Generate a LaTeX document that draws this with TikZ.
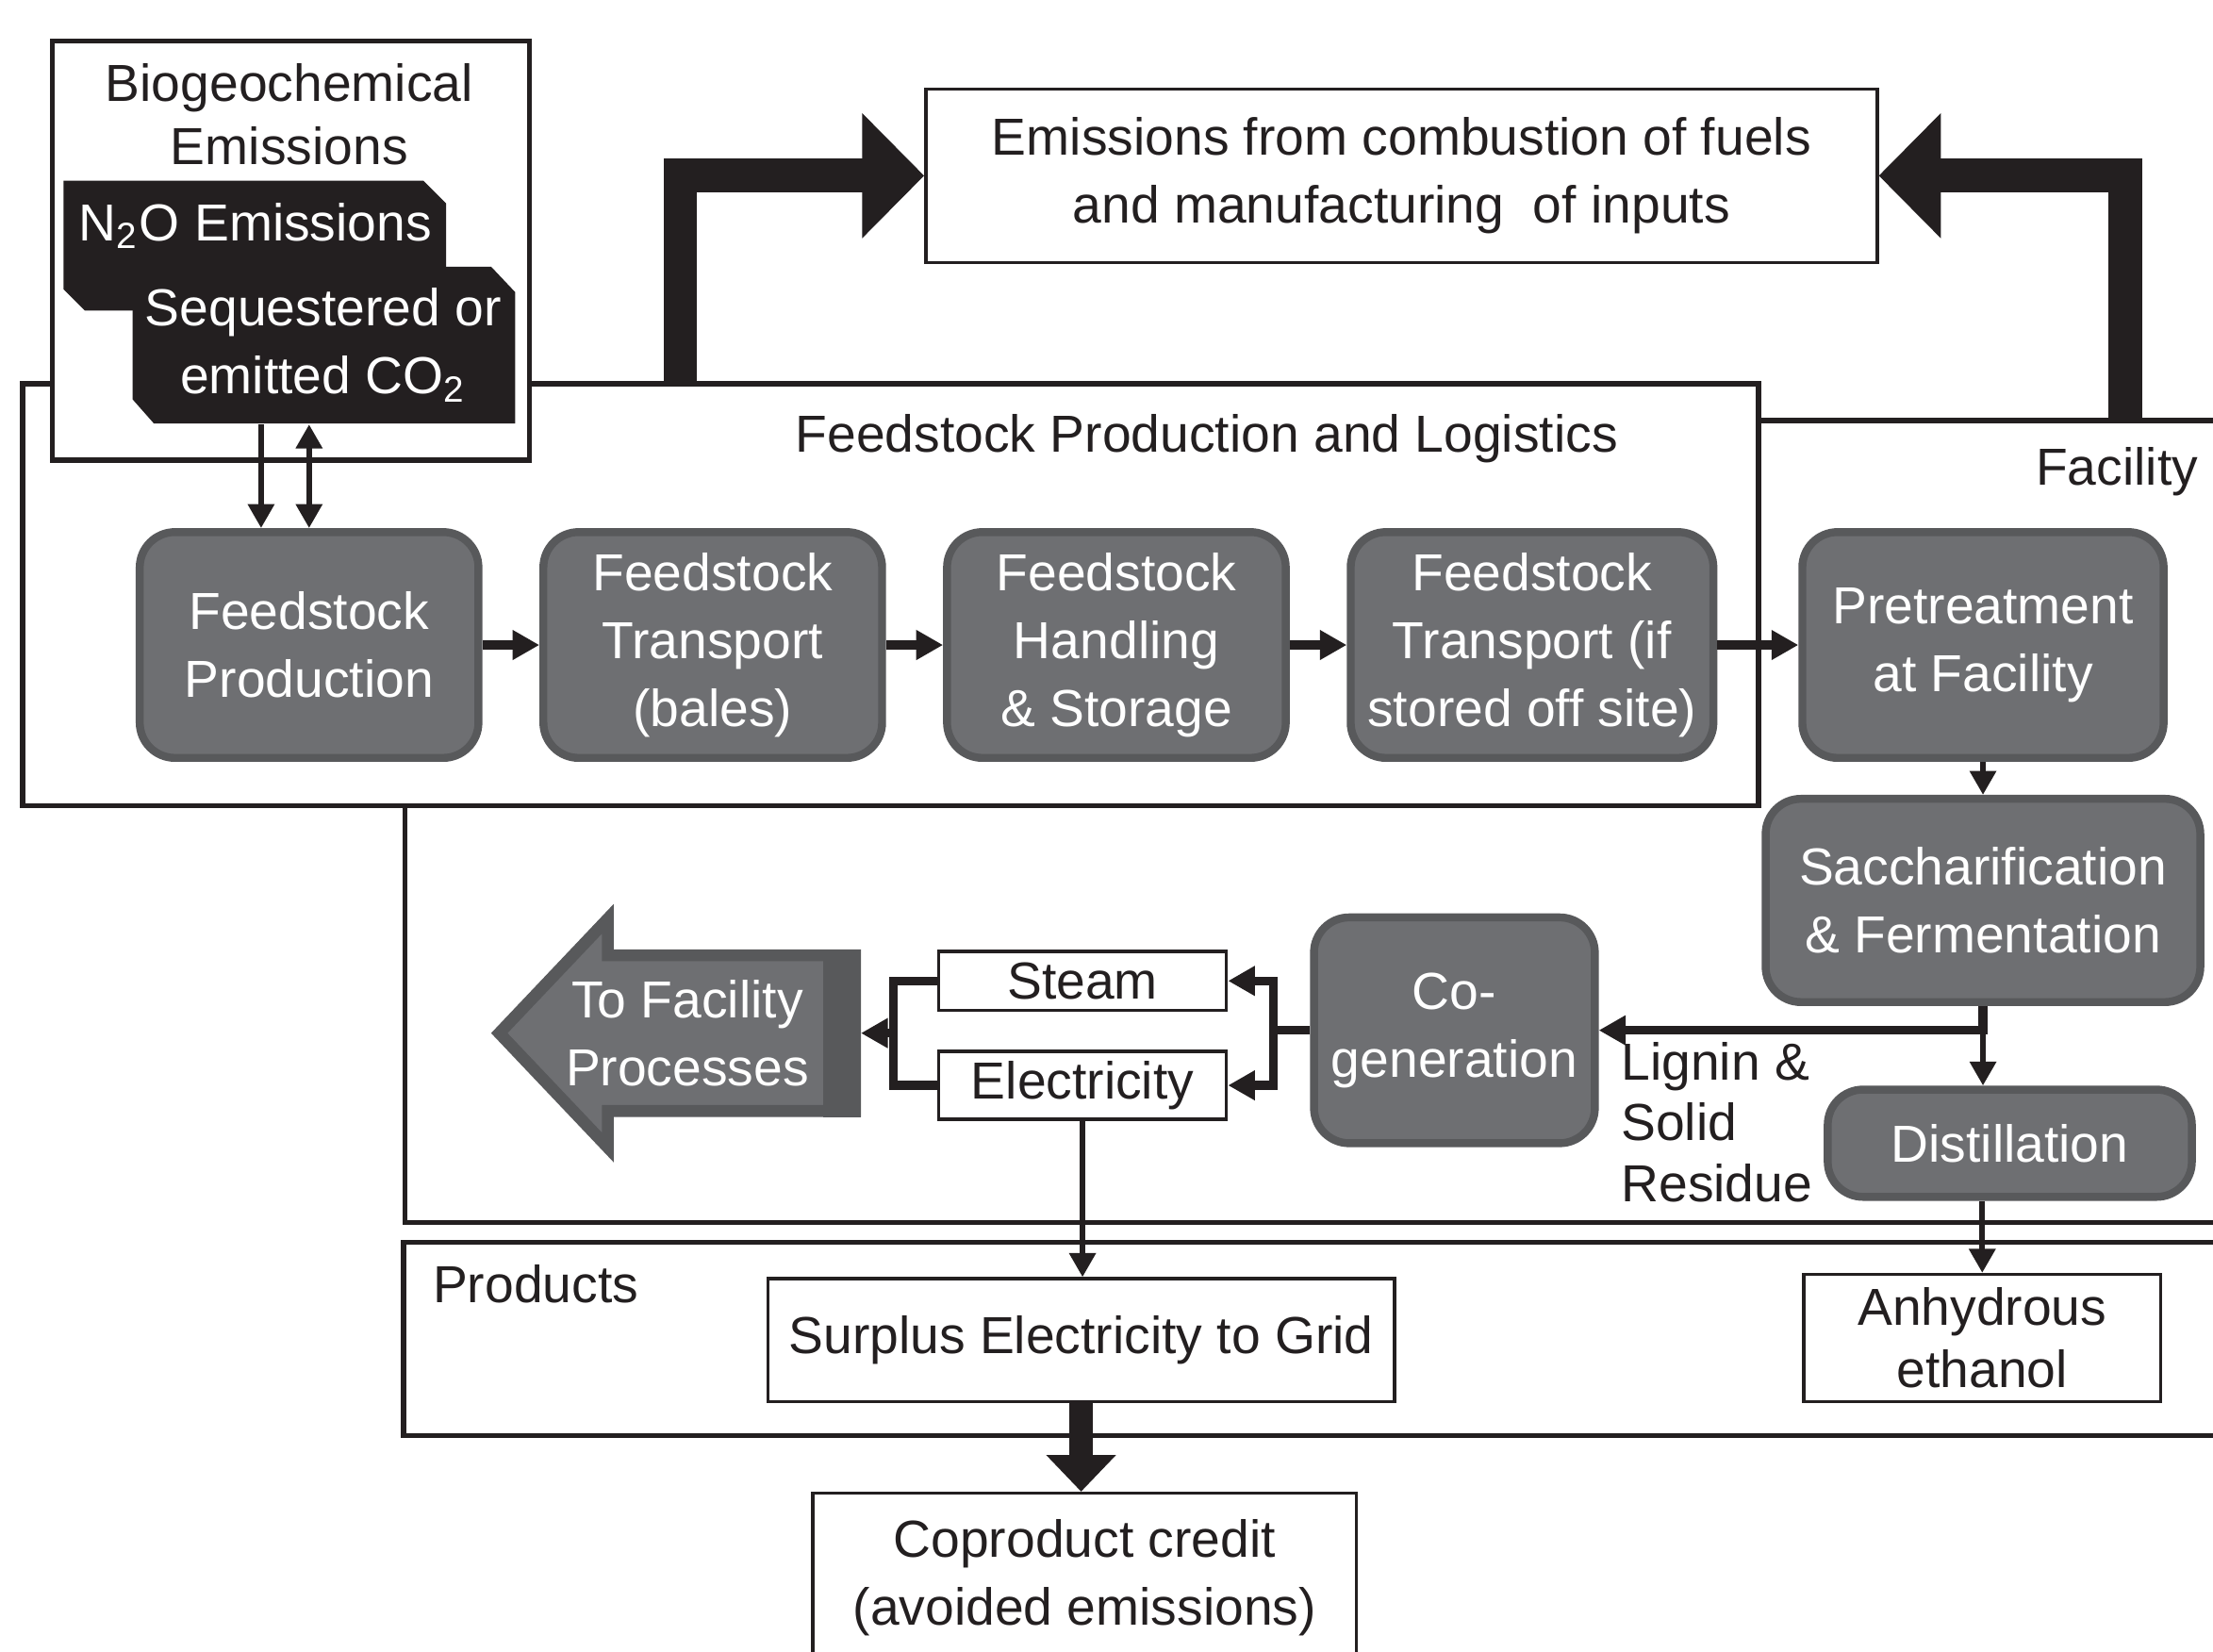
\documentclass[tikz,border=0pt]{standalone}
\usepackage{fontspec}
\setmainfont{Liberation Sans}
\usepackage{tikz}
\usetikzlibrary{arrows.meta,shapes.arrows}

\definecolor{ink}{HTML}{231F20}
\definecolor{procfill}{HTML}{6E6F72}
\definecolor{procedge}{HTML}{58595B}

\begin{document}
\begin{tikzpicture}[font=\fontsize{10.5}{13.7}\selectfont, text=ink,
	frame/.style={draw=ink, line width=1pt, fill=white},
	whitebox/.style={draw=ink, line width=0.65pt, fill=white, align=center, inner sep=0pt},
	procbox/.style={draw=procedge, fill=procfill, line width=1.6pt, rounded corners=0.25cm, text=white, align=center, inner sep=0pt},
	blacktext/.style={text=white, align=center, inner sep=0pt},
	flowline/.style={draw=ink, line width=1.8pt},
	flow/.style={flowline, -{Triangle[length=1.9mm,width=2mm]}},
	flowin/.style={flowline, {Triangle[length=1.9mm,width=2mm]}-},
	thinarr/.style={draw=ink, line width=1.2pt, -{Triangle[length=1.7mm,width=1.8mm]}},
	thinin/.style={draw=ink, line width=1.2pt, {Triangle[length=1.7mm,width=1.8mm]}-},
	thinboth/.style={draw=ink, line width=1.2pt, {Triangle[length=1.7mm,width=1.8mm]}-{Triangle[length=1.7mm,width=1.8mm]}},
	fatarr/.style={draw=ink, line width=0.17cm, -{Triangle[length=2.6mm,width=4.8mm]}},
	bigarrow/.style={draw=ink, line width=0.24cm, line join=miter, -{Triangle[length=4.4mm,width=8.6mm]}}]
	\useasboundingbox (0,0) rectangle (15.68,-11.70);
	\clip (0,0) rectangle (15.68,-11.70);

	% frames
	\node (fac) at (9.44,-5.82) [frame, minimum width=13.14cm, minimum height=5.68cm] {};
	\node (fpl) at (6.31,-4.215) [frame, minimum width=12.30cm, minimum height=2.99cm] {};
	\node (prod) at (9.43,-9.485) [frame, minimum width=13.14cm, minimum height=1.37cm] {};
	\node (bio) at (2.06,-1.775) [frame, minimum width=3.38cm, minimum height=2.97cm] {};

	\node (biolabel) at (2.05,-0.81) [align=center, font=\fontsize{10.5}{12.6}\selectfont] {Biogeochemical\\Emissions};
	\node (fpllabel) at (8.55,-3.11) {Feedstock Production and Logistics};
	\node (faclabel) at (15.58,-3.34) [anchor=east, inner sep=0pt] {Facility};
	\node (prodlabel) at (3.06,-9.10) [anchor=west, inner sep=0pt] {Products};

	% black tags
	\fill[ink] (0.45,-1.28) -- (3.00,-1.28) -- (3.16,-1.44) -- (3.16,-2.20) -- (0.60,-2.20) -- (0.45,-2.05) -- cycle;
	\node (n2o) at (1.81,-1.60) [blacktext] {N\textsubscript{2}O Emissions};
	\fill[ink] (0.94,-1.89) -- (3.48,-1.89) -- (3.65,-2.07) -- (3.65,-3.00) -- (1.09,-3.00) -- (0.94,-2.83) -- cycle;
	\node (seq) at (2.29,-2.445) [blacktext, minimum height=1.11cm] {Sequestered or\\emitted CO\textsubscript{2}};

	\node (emis) at (9.93,-1.245) [whitebox, minimum width=6.74cm, minimum height=1.23cm] {Emissions from combustion of fuels\\and manufacturing\ \ of inputs};

	% feedstock chain
	\node (fprod) at (2.19,-4.57) [procbox, minimum width=2.40cm, minimum height=1.60cm] {Feedstock\\Production};
		\node (ftrans) at (5.05,-4.57) [procbox, minimum width=2.40cm, minimum height=1.60cm] {Feedstock\\Transport\\(bales)}		edge[flowin](fprod);
		\node (fhand) at (7.91,-4.57) [procbox, minimum width=2.40cm, minimum height=1.60cm] {Feedstock\\Handling\\\& Storage}		edge[flowin](ftrans);
		\node (fstore) at (10.855,-4.57) [procbox, minimum width=2.57cm, minimum height=1.60cm] {Feedstock\\Transport (if\\stored off site)}		edge[flowin](fhand);
	% facility
	\node (pretreat) at (14.05,-4.57) [procbox, minimum width=2.56cm, minimum height=1.60cm] {Pretreatment\\at Facility}		edge[flowin](fstore);
		\node (sacch) at (14.05,-6.38) [procbox, minimum width=3.08cm, minimum height=1.44cm] {Saccharification\\\& Fermentation}		edge[thinin](pretreat);
		\node (distil) at (14.24,-8.10) [procbox, minimum width=2.58cm, minimum height=0.76cm] {Distillation};
		\node (cogen) at (10.305,-7.30) [procbox, minimum width=1.99cm, minimum height=1.60cm] {Co-\\generation};
	\node (steam) at (7.67,-6.95) [whitebox, minimum width=2.04cm, minimum height=0.42cm] {Steam};
	\node (elec) at (7.67,-7.69) [whitebox, minimum width=2.04cm, minimum height=0.48cm] {Electricity};
	\node (tofac) at (6.10,-7.32) [anchor=tail, single arrow, shape border rotate=180, fill=procfill, draw=procedge, line width=2.4pt, inner xsep=0pt, inner ysep=0.47cm, minimum height=2.52cm, minimum width=1.62cm, single arrow head extend=0.24cm, single arrow tip angle=93] {};
	\fill[procedge] (tofac.before tail) rectangle ([xshift=-2.7mm]tofac.after tail);
	\node (toflabel) at (4.87,-7.32) [blacktext] {To Facility\\Processes};
	\node (lignin) at (11.48,-7.95) [anchor=west, align=left, inner sep=0pt, font=\fontsize{10.5}{12.3}\selectfont] {Lignin \&\\Solid\\Residue};

	% products
	\node (ethanol) at (14.045,-9.48) [whitebox, minimum width=2.53cm, minimum height=0.90cm, font=\fontsize{10.5}{12.6}\selectfont] {Anhydrous\\ethanol};
	\node (grid) at (7.66,-9.495) [whitebox, minimum width=4.44cm, minimum height=0.87cm] {Surplus Electricity to Grid};
	\node (credit) at (7.685,-11.18) [whitebox, minimum width=3.85cm, minimum height=1.20cm] {Coproduct credit\\(avoided emissions)};

	\draw[thinarr] ([xshift=-3.4mm]fprod.north |- seq.south) -- ([xshift=-3.4mm]fprod.north);
	\draw[thinboth] (fprod.north |- seq.south) -- (fprod.north);
	\draw[bigarrow] (fpl.north) ++(-1.49,0) |- (emis.west);
	\draw[bigarrow] (fac.north) ++(5.62,0) |- (emis.east);
	\draw[flow] (sacch.south) |- (cogen.east);
	\draw[thinarr] (sacch.south) -- (sacch.south |- distil.north);
	\draw[thinarr] (distil.south -| ethanol.north) -- (ethanol.north);
	\draw[flowline] (cogen.west) -- ++(-0.26,0) coordinate (cogensplit);
	\draw[flow] (cogensplit) |- (steam.east);
	\draw[flow] (cogensplit) |- (elec.east);
	\coordinate (mix) at (6.33,-7.32);
	\draw[flowline] (steam.west) -| (mix) |- (elec.west);
	\draw[flow] (mix) -- (tofac.tail);
	\draw[thinarr] (elec.south) -- (elec.south |- grid.north);
	\draw[fatarr] (grid.south) -- (grid.south |- credit.north);
\end{tikzpicture}
\end{document}
